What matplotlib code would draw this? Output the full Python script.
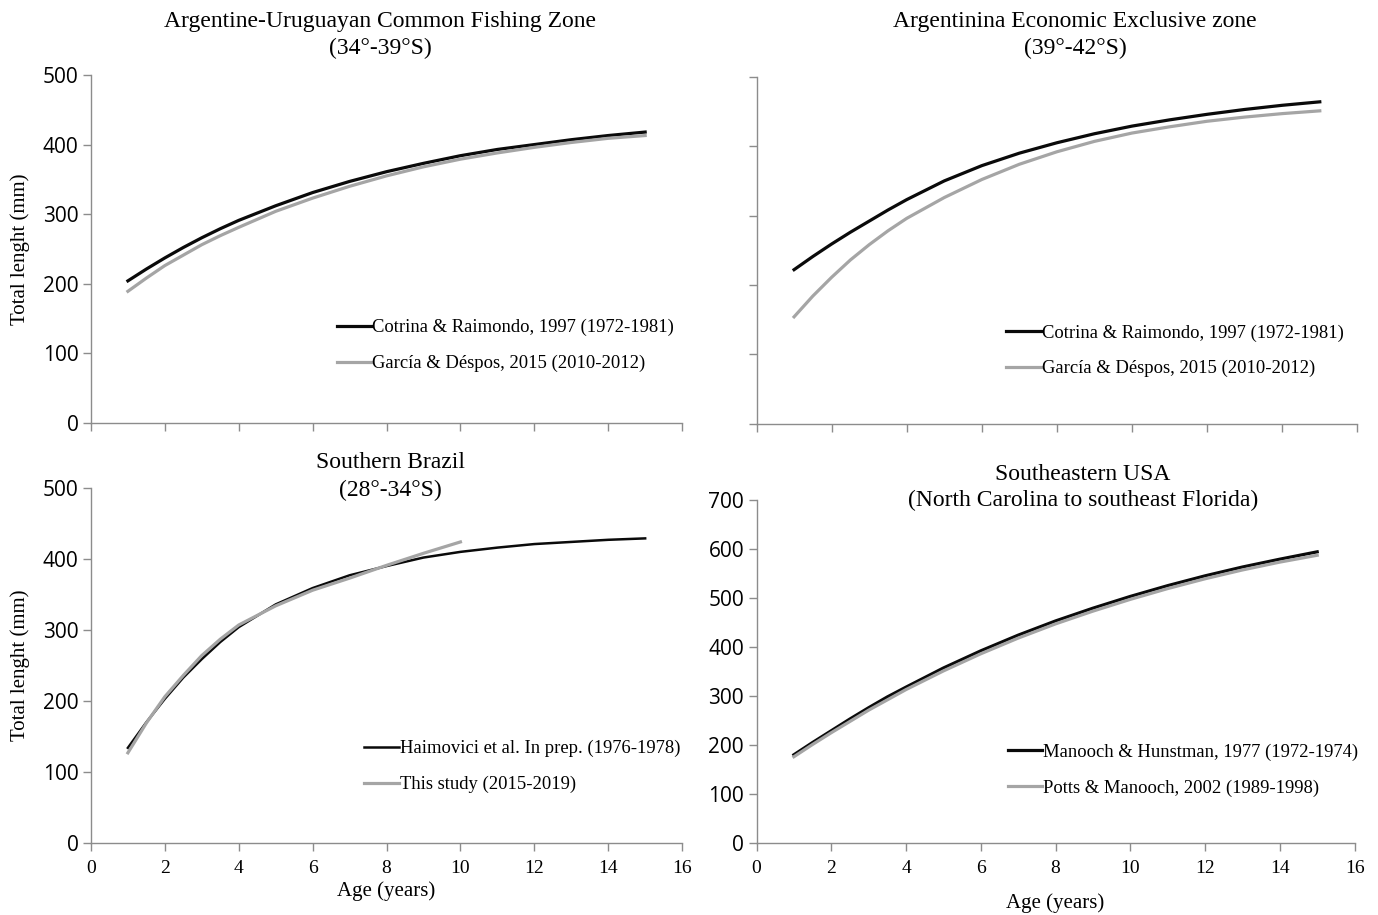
import matplotlib
matplotlib.use('Agg')
import matplotlib.pyplot as plt

# ---- values (age in years, total length in mm) ----
# half-year readings where the curves bend most, yearly after that
AGES = [1, 1.5, 2, 2.5, 3, 3.5, 4, 5, 6, 7, 8, 9, 10, 11, 12, 13, 14, 15]
AGES_THIS_STUDY = [1, 1.5, 2, 2.5, 3, 3.5, 4, 5, 6, 7, 8, 9, 10]

# Argentine-Uruguayan Common Fishing Zone
AUCFZ_COTRINA = [204, 221, 237, 252, 266, 279, 291, 312, 331, 347, 361, 373, 384, 393, 400, 407, 413, 418]
AUCFZ_GARCIA = [189, 208, 226, 241, 256, 269, 281, 304, 323, 340, 355, 368, 379, 388, 396, 403, 409, 413]

# Argentinian Economic Exclusive Zone
AEEZ_COTRINA = [222, 241, 259, 276, 292, 308, 323, 350, 372, 390, 405, 418, 429, 438, 446, 453, 459, 464]
AEEZ_GARCIA = [154, 184, 211, 236, 258, 278, 296, 326, 352, 374, 392, 407, 419, 428, 436, 442, 447, 451]

# Southern Brazil
SB_HAIMOVICI = [134, 170, 203, 233, 259, 283, 304, 336, 359, 377, 390, 402, 410, 416, 421, 424, 427, 429]
SB_THIS_STUDY = [127, 169, 206, 236, 264, 287, 307, 334, 356, 373, 391, 408, 424]

# Southeastern USA
USA_MANOOCH = [180, 205, 229, 253, 276, 298, 318, 357, 392, 424, 453, 479, 503, 525, 545, 563, 579, 594]
USA_POTTS = [176, 201, 225, 248, 271, 292, 313, 351, 386, 418, 447, 473, 497, 519, 539, 557, 573, 587]

X_TICKS = list(range(0, 17, 2))

SERIF = 'Liberation Serif'
SANS = 'Open Sans'
BLACK = '#0a0a0a'
GREY = '#a5a5a5'
AXIS_GREY = '#8c8c8c'


def style_axis(ax, ymax, ystep, xlabels=True, ylabels=True):
    ax.set_xlim(0, 16)
    ax.set_ylim(0, ymax)
    ax.set_xticks(X_TICKS)
    ax.set_yticks(range(0, ymax + 1, ystep))
    for side in ['top', 'right']:
        ax.spines[side].set_visible(False)
    for side in ['left', 'bottom']:
        ax.spines[side].set_color(AXIS_GREY)
        ax.spines[side].set_linewidth(1.0)
    ax.tick_params(axis='both', direction='out', length=6, width=1.0, color=AXIS_GREY)
    ax.tick_params(axis='y', pad=3)
    ax.tick_params(axis='x', pad=6)
    if xlabels:
        ax.set_xticklabels([str(t) for t in X_TICKS], fontfamily=SERIF, fontsize=14)
    else:
        ax.set_xticklabels([])
    if ylabels:
        ax.set_yticklabels([str(t) for t in range(0, ymax + 1, ystep)],
                           fontfamily=SANS, fontsize=15)
    else:
        ax.set_yticklabels([])


def add_legend(ax, x_right, y_center):
    leg = ax.legend(loc='center right', bbox_to_anchor=(x_right, y_center),
                    frameon=False, borderaxespad=0, borderpad=0,
                    handlelength=1.85, handletextpad=0.05, labelspacing=1.0,
                    prop={'family': SERIF, 'size': 13.4})
    return leg


def add_title(fig, x_px, y1_px, y2_px, line1, line2):
    W, H = 1378, 915
    fig.text(x_px / W, 1 - y1_px / H, line1, ha='center', va='center',
             fontfamily=SERIF, fontsize=17)
    fig.text(x_px / W, 1 - y2_px / H, line2, ha='center', va='center',
             fontfamily=SERIF, fontsize=17)


fig = plt.figure(figsize=(13.78, 9.15), dpi=100)

ax_tl = fig.add_axes([0.066, 0.538, 0.429, 0.380])
ax_tr = fig.add_axes([0.549, 0.537, 0.436, 0.379])
ax_bl = fig.add_axes([0.066, 0.0787, 0.429, 0.388])
ax_br = fig.add_axes([0.549, 0.0787, 0.434, 0.375])

# top left
ax_tl.plot(AGES, AUCFZ_COTRINA, color=BLACK, lw=2.3,
           label='Cotrina & Raimondo, 1997 (1972-1981)')
ax_tl.plot(AGES, AUCFZ_GARCIA, color=GREY, lw=2.3,
           label='García & Déspos, 2015 (2010-2012)')
style_axis(ax_tl, 500, 100, xlabels=False)
ax_tl.set_ylabel('Total lenght (mm)', fontfamily=SERIF, fontsize=15, labelpad=9)
add_legend(ax_tl, 0.986, 0.222)
add_title(fig, 380, 22, 48, 'Argentine-Uruguayan Common Fishing Zone', '(34°-39°S)')

# top right
ax_tr.plot(AGES, AEEZ_COTRINA, color=BLACK, lw=2.3,
           label='Cotrina & Raimondo, 1997 (1972-1981)')
ax_tr.plot(AGES, AEEZ_GARCIA, color=GREY, lw=2.3,
           label='García & Déspos, 2015 (2010-2012)')
style_axis(ax_tr, 500, 100, xlabels=False, ylabels=False)
add_legend(ax_tr, 0.977, 0.21)
add_title(fig, 1075, 22, 48, 'Argentinina Economic Exclusive zone', '(39°-42°S)')

# bottom left
ax_bl.plot(AGES, SB_HAIMOVICI, color=BLACK, lw=1.8,
           label='Haimovici et al. In prep. (1976-1978)')
ax_bl.plot(AGES_THIS_STUDY, SB_THIS_STUDY, color=GREY, lw=2.3,
           label='This study (2015-2019)')
style_axis(ax_bl, 500, 100)
ax_bl.set_ylabel('Total lenght (mm)', fontfamily=SERIF, fontsize=15, labelpad=9)
ax_bl.set_xlabel('Age (years)', fontfamily=SERIF, fontsize=15, labelpad=3)
add_legend(ax_bl, 0.997, 0.215)
add_title(fig, 390, 462, 490, 'Southern Brazil', '(28°-34°S)')

# bottom right
ax_br.plot(AGES, USA_MANOOCH, color=BLACK, lw=2.3,
           label='Manooch & Hunstman, 1977 (1972-1974)')
ax_br.plot(AGES, USA_POTTS, color=GREY, lw=2.3,
           label='Potts & Manooch, 2002 (1989-1998)')
style_axis(ax_br, 700, 100)
ax_br.set_xlabel('Age (years)', fontfamily=SERIF, fontsize=15, labelpad=12)
add_legend(ax_br, 1.006, 0.213)
add_title(fig, 1083, 474, 500, 'Southeastern USA', '(North Carolina to southeast Florida)')

fig.savefig('out.png', dpi=100)
